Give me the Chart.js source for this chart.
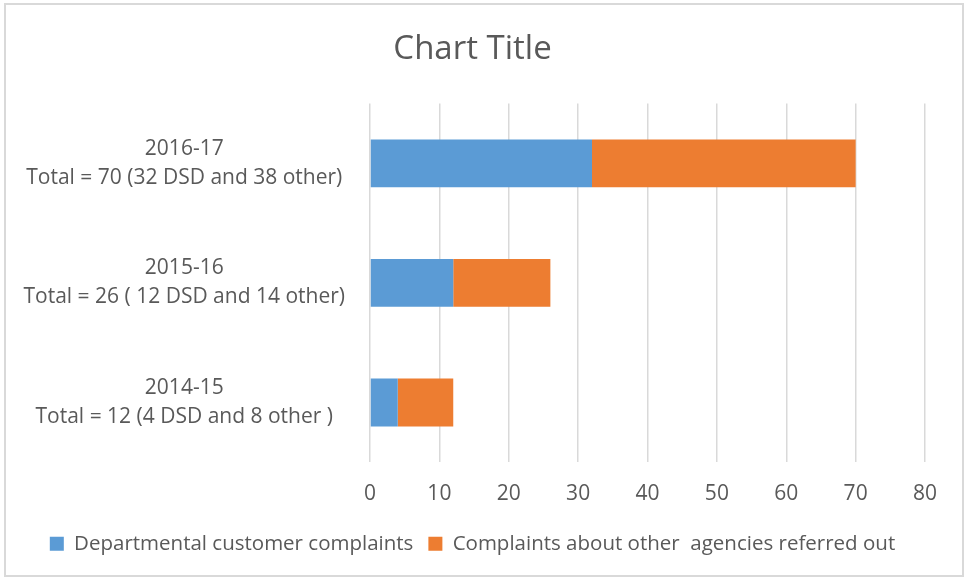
<!DOCTYPE html>
<html>
<head>
<meta charset="utf-8">
<script src="https://cdn.jsdelivr.net/npm/chart.js@4/dist/chart.umd.min.js"></script>
<style>
  html, body { margin: 0; padding: 0; background: #fff; }
  #wrap { position: relative; width: 966px; height: 578px; }
</style>
</head>
<body>
<div id="wrap"><canvas id="chart"></canvas></div>
<script>
'use strict';

// ── Data ───────────────────────────────────────────────────────
const CATEGORIES = [
  ['2016-17', 'Total = 70 (32 DSD and 38 other)'],
  ['2015-16', 'Total = 26 ( 12 DSD and 14 other)'],
  ['2014-15', 'Total = 12 (4 DSD and 8 other )'],
];
const DEPT_COMPLAINTS  = [32, 12, 4];
const OTHER_AGENCIES   = [38, 14, 8];
const SERIES_NAMES     = ['Departmental customer complaints', 'Complaints about other  agencies referred out'];

const TEXT_COLOR = '#595959';
const GRID_COLOR = '#d9d9d9';
const FONT = '"Open Sans", "Noto Sans", sans-serif';

// white background + thin frame round the whole chart
const framePlugin = {
  id: 'frame',
  beforeDraw(chart) {
    const ctx = chart.ctx;
    ctx.save();
    ctx.fillStyle = '#fff';
    ctx.fillRect(0, 0, chart.width, chart.height);
    ctx.strokeStyle = GRID_COLOR;
    ctx.lineWidth = 2;
    ctx.strokeRect(5, 4, chart.width - 8, chart.height - 6);
    ctx.restore();
  },
};

new Chart(document.getElementById('chart'), {
  type: 'bar',
  data: {
    labels: CATEGORIES,
    datasets: [
      { label: SERIES_NAMES[0], data: DEPT_COMPLAINTS, backgroundColor: '#5b9bd5' },
      { label: SERIES_NAMES[1], data: OTHER_AGENCIES,  backgroundColor: '#ed7d31' },
    ],
  },
  options: {
    indexAxis: 'y',
    responsive: true, maintainAspectRatio: false,
    animation: false,
    categoryPercentage: 1,
    barPercentage: 0.4,
    layout: { padding: { left: 20, right: 41, top: 0, bottom: 14 } },
    plugins: {
      title: {
        display: true, text: 'Chart Title', color: TEXT_COLOR,
        font: { family: FONT, size: 33, weight: 'normal', lineHeight: 1.2 },
        padding: { top: 30, bottom: 34 },
      },
      legend: {
        position: 'bottom',
        labels: {
          color: TEXT_COLOR, boxWidth: 14, boxHeight: 14, padding: 15,
          font: { family: FONT, size: 20.5 },
        },
      },
      tooltip: { enabled: false },
    },
    scales: {
      x: {
        stacked: true, min: 0, max: 80,
        afterFit: s => { s.height -= 7; },
        ticks: { stepSize: 10, color: TEXT_COLOR, padding: 19, font: { family: FONT, size: 21 } },
        grid: { color: GRID_COLOR, lineWidth: 1.5, drawTicks: false },
        border: { display: false },
      },
      y: {
        stacked: true,
        afterFit: s => { s.width = 370 - 20; },
        ticks: { color: TEXT_COLOR, crossAlign: 'center', padding: 25, font: { family: FONT, size: 21, lineHeight: 1.38 } },
        grid: { display: false, drawTicks: false },
        border: { display: false },
      },
    },
  },
  plugins: [framePlugin],
});
</script>
</body>
</html>
